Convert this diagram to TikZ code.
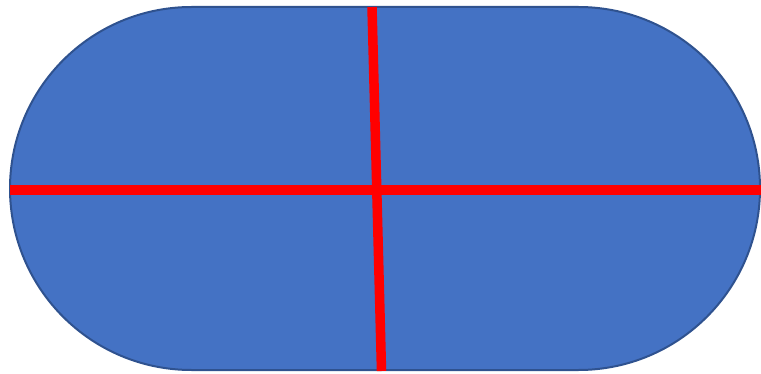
\documentclass[tikz,border=0pt]{standalone}
\definecolor{shapefill}{HTML}{4472C4}
\definecolor{shapeedge}{HTML}{2F528F}
\definecolor{lineRed}{HTML}{FF0000}
\tikzset{
  stadium/.style={fill=shapefill,draw=shapeedge,line width=2pt},
  redline/.style={draw=lineRed,line width=9.5pt}
}
\begin{document}
\begin{tikzpicture}[x=1pt,y=1pt]
\useasboundingbox (0,0) rectangle (761,373);
\path[stadium] (191.5,366) -- (578.5,366) arc[start angle=90,end angle=-90,radius=181.5pt]
  -- (191.5,3) arc[start angle=270,end angle=90,radius=181.5pt] -- cycle;
\coordinate (hl) at (10,183);
\coordinate (hr) at (762,183);
\coordinate (vt) at (372,366);
\coordinate (vb) at (381.5,2);
\draw[redline] (hl) -- (hr);
\draw[redline] (vt) -- (vb);
\end{tikzpicture}
\end{document}
